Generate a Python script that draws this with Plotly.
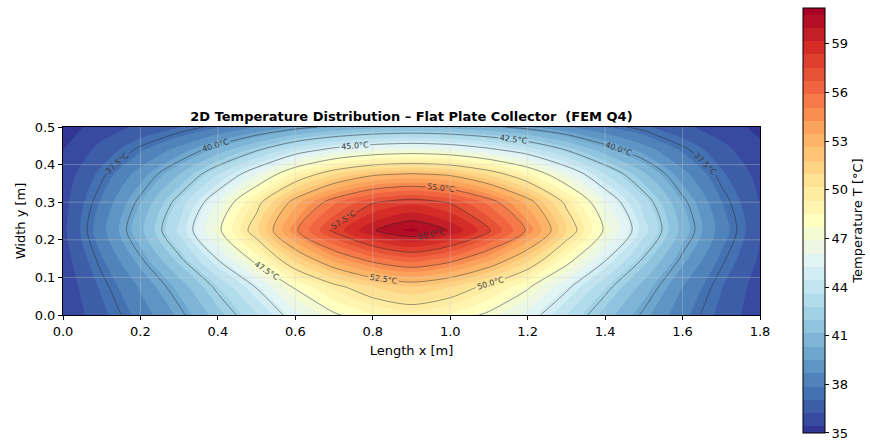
import plotly.graph_objects as go

# Nodal temperatures of the FEM Q4 mesh (°C), rows ordered by increasing y
x_nodes = [0.0, 0.1, 0.2, 0.3, 0.4, 0.5, 0.6, 0.7, 0.8, 0.9,
           1.0, 1.1, 1.2, 1.3, 1.4, 1.5, 1.6, 1.7, 1.8]
y_nodes = [0.0, 0.075, 0.15, 0.225, 0.3, 0.375, 0.44, 0.5]
T_nodes = [
    [35.5, 36.8, 38.2, 39.7, 41.6, 43.5, 45.7, 47.3, 48.4, 49.0, 48.4, 47.2, 45.7, 43.6, 41.6, 39.8, 38.1, 36.8, 35.7],
    [35.6, 37.2, 38.8, 40.6, 42.8, 45.1, 47.7, 49.6, 51.0, 51.7, 51.0, 49.6, 47.7, 45.3, 42.9, 40.8, 38.7, 37.1, 35.8],
    [35.8, 37.8, 39.9, 42.3, 45.1, 48.1, 51.4, 53.9, 55.6, 56.5, 55.6, 53.8, 51.4, 48.2, 45.2, 42.4, 39.8, 37.7, 36.1],
    [36.0, 38.4, 40.9, 43.8, 47.2, 50.8, 54.8, 57.8, 59.9, 61.0, 59.9, 57.7, 54.8, 51.0, 47.3, 44.0, 40.8, 38.3, 36.3],
    [35.9, 38.0, 40.3, 43.0, 46.1, 49.5, 53.1, 55.7, 57.4, 58.1, 57.4, 55.6, 53.1, 49.7, 46.2, 43.2, 40.3, 37.9, 36.2],
    [35.7, 37.3, 39.1, 41.1, 43.5, 46.0, 48.8, 50.9, 52.2, 52.6, 52.2, 50.8, 48.8, 46.2, 43.6, 41.3, 39.0, 37.2, 35.9],
    [35.4, 36.5, 37.7, 39.0, 40.6, 42.3, 44.1, 45.4, 46.2, 46.5, 46.2, 45.3, 44.1, 42.4, 40.6, 39.1, 37.7, 36.5, 35.6],
    [35.0, 35.8, 36.4, 37.0, 37.8, 38.7, 39.6, 40.3, 40.8, 41.0, 40.8, 40.3, 39.6, 38.8, 37.9, 37.2, 36.4, 35.8, 35.2],
]

# Filled bands (colour bar spans 35.0 .. 61.2) and labelled isotherms
band_step = 0.81875
fill_start, fill_end = 35.0 + band_step / 2, 61.2 - band_step / 2
iso_start, iso_end, iso_step = 37.5, 60.0, 2.5

x_ticks = [0.0, 0.2, 0.4, 0.6, 0.8, 1.0, 1.2, 1.4, 1.6, 1.8]
y_ticks = [0.0, 0.1, 0.2, 0.3, 0.4, 0.5]
cbar_ticks = [35, 38, 41, 44, 47, 50, 53, 56, 59]

FONT = "DejaVu Sans"

fig = go.Figure()

fig.add_trace(go.Contour(
    x=x_nodes, y=y_nodes, z=T_nodes,
    colorscale="RdYlBu", reversescale=True,
    contours=dict(start=fill_start, end=fill_end, size=band_step, coloring="fill",
                  showlines=False),
    line=dict(width=0, smoothing=0.8),
    hoverinfo="skip",
    colorbar=dict(
        x=1.0617, xanchor="left", xpad=0,
        y=0.5027, yanchor="middle", ypad=0,
        len=425, lenmode="pixels", thickness=22,
        outlinewidth=1, outlinecolor="black",
        tickvals=cbar_ticks, ticks="outside", ticklen=4, tickcolor="black",
        tickfont=dict(family=FONT, size=13, color="black"),
        title=dict(text="Temperature T [°C]", side="right",
                   font=dict(family=FONT, size=13, color="black")),
    ),
))

fig.add_trace(go.Contour(
    x=x_nodes, y=y_nodes, z=T_nodes,
    contours=dict(start=iso_start, end=iso_end, size=iso_step, coloring="none",
                  showlabels=True, labelformat="$.1f",
                  labelfont=dict(family=FONT, size=8, color="#3a3a3a")),
    line=dict(color="rgba(40,40,40,0.6)", width=0.8, smoothing=0.8),
    showscale=False, hoverinfo="skip",
))

# light grid drawn over the filled field
grid_shapes = []
for xv in x_ticks[1:-1]:
    grid_shapes.append(dict(type="line", xref="x", yref="y", x0=xv, x1=xv, y0=0, y1=0.5,
                            line=dict(color="rgba(205,205,205,0.35)", width=1), layer="above"))
for yv in y_ticks[1:-1]:
    grid_shapes.append(dict(type="line", xref="x", yref="y", x0=0, x1=1.8, y0=yv, y1=yv,
                            line=dict(color="rgba(205,205,205,0.35)", width=1), layer="above"))

axis_common = dict(showline=True, linecolor="black", linewidth=1, mirror=True,
                   ticks="outside", ticklen=4, tickcolor="black", showgrid=False,
                   zeroline=False, tickfont=dict(family=FONT, size=13, color="black"))

fig.update_layout(
    width=870, height=441,
    margin=dict(l=63, r=110, t=127, b=126, autoexpand=False),
    paper_bgcolor="white", plot_bgcolor="white",
    font=dict(family=FONT, color="black"),
    title=dict(text="<b>2D Temperature Distribution – Flat Plate Collector  (FEM Q4)</b>",
               x=0.4729, xref="container", xanchor="center",
               y=0.737, yref="container", yanchor="middle",
               font=dict(family=FONT, size=13, color="black")),
    xaxis=dict(range=[0, 1.8], tickvals=x_ticks, tickformat=".1f",
               title=dict(text="Length x [m]", standoff=8,
                          font=dict(family=FONT, size=13, color="black")),
               **axis_common),
    yaxis=dict(range=[0, 0.5], tickvals=y_ticks, tickformat=".1f",
               title=dict(text="Width y [m]", standoff=6,
                          font=dict(family=FONT, size=13, color="black")),
               **axis_common),
    shapes=grid_shapes,
)

fig.write_html("out.html", config={
    "locale": "degc",
    "locales": {"degc": {"format": {"currency": ["", "°C"], "decimal": ".", "thousands": ","}}},
    "displayModeBar": False,
})
